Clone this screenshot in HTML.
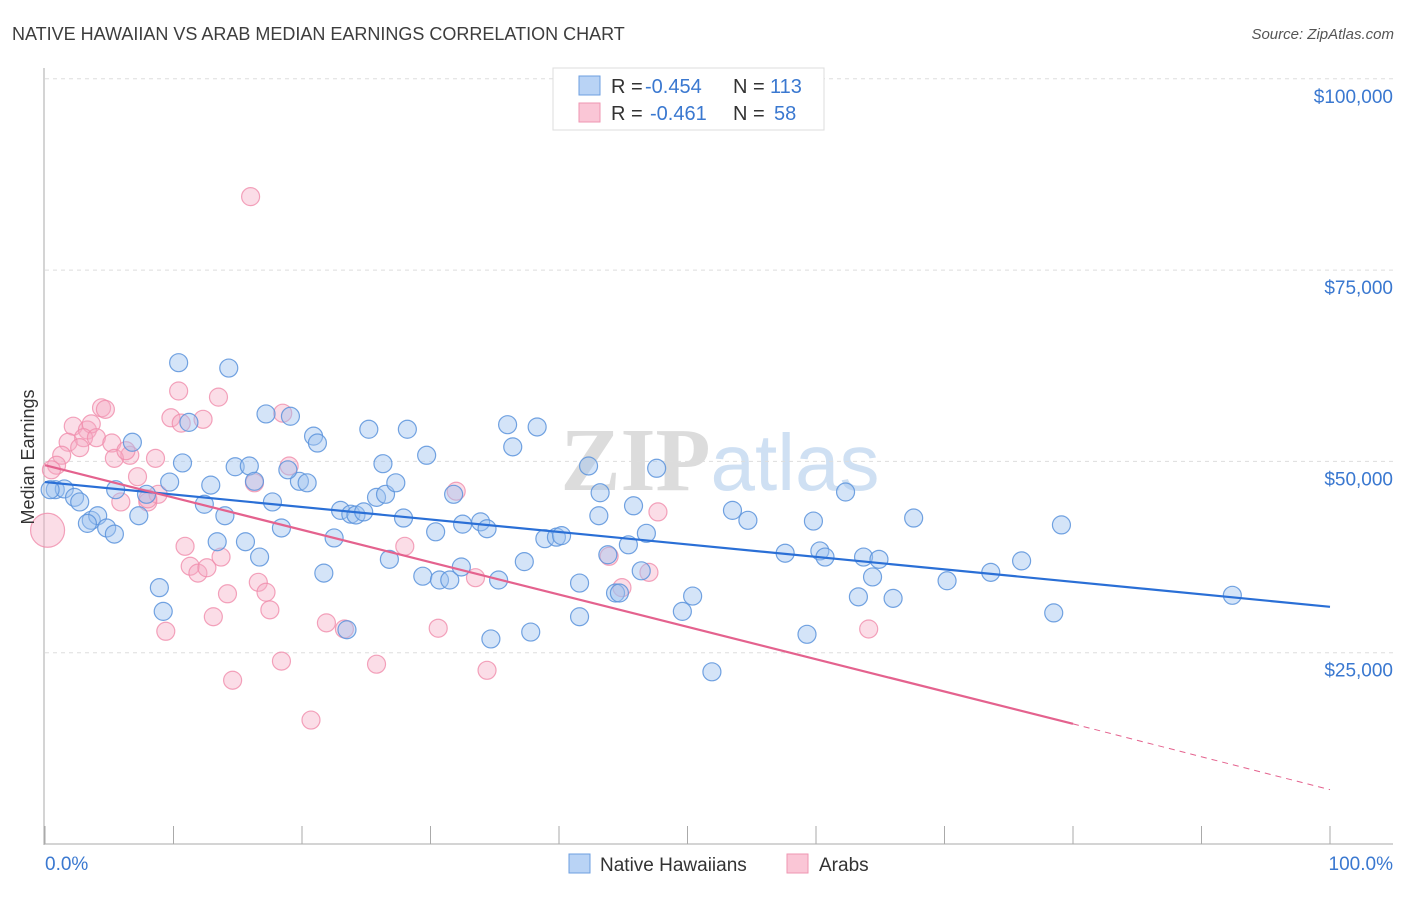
<!DOCTYPE html>
<html><head><meta charset="utf-8"><style>
body{margin:0;background:#fff;font-family:"Liberation Sans",sans-serif;}
svg text{font-family:"Liberation Sans",sans-serif;}
</style></head><body>
<svg id="chart" width="1406" height="892" xmlns="http://www.w3.org/2000/svg">
<text x="12" y="40" font-size="18" fill="#3d3d3d">NATIVE HAWAIIAN VS ARAB MEDIAN EARNINGS CORRELATION CHART</text>
<text x="1394" y="39" font-size="15" fill="#555" text-anchor="end" font-style="italic">Source: ZipAtlas.com</text>
<text x="720" y="490" font-size="90" text-anchor="middle" fill="#e4e4e4"><tspan font-family="Liberation Serif" font-weight="bold" fill="#dcdcdc">ZIP</tspan><tspan fill="#cfe0f3" font-size="80">atlas</tspan></text>
<g id="grid"></g><g id="axes"></g><g id="pts"></g><g id="lines"></g>
<text transform="translate(34,457) rotate(-90)" font-size="18" fill="#333" text-anchor="middle">Median Earnings</text>
<g>
<rect x="553" y="68" width="271" height="62" fill="#fff" stroke="#ddd"/>
<rect x="579" y="76" width="21" height="19" fill="#b9d3f5" stroke="#6d9fe0"/>
<rect x="579" y="103" width="21" height="19" fill="#fac6d6" stroke="#ef96b2"/>
<text x="611" y="93" font-size="20" fill="#333">R =</text>
<text x="645" y="93" font-size="20" fill="#3a78d0">-0.454</text>
<text x="733" y="93" font-size="20" fill="#333">N =</text>
<text x="770" y="93" font-size="20" fill="#3a78d0">113</text>
<text x="611" y="120" font-size="20" fill="#333">R =</text>
<text x="650" y="120" font-size="20" fill="#3a78d0">-0.461</text>
<text x="733" y="120" font-size="20" fill="#333">N =</text>
<text x="774" y="120" font-size="20" fill="#3a78d0">58</text>
</g>
<g>
<rect x="569" y="854" width="21" height="19" fill="#b9d3f5" stroke="#6d9fe0"/>
<text x="600" y="871" font-size="19" fill="#333">Native Hawaiians</text>
<rect x="787" y="854" width="21" height="19" fill="#fac6d6" stroke="#ef96b2"/>
<text x="819" y="871" font-size="19" fill="#333">Arabs</text>
</g>
</svg>
<script>
const yTicks=[25000,50000,75000,100000];
const yTickLabels=["$25,000","$50,000","$75,000","$100,000"];
const xTickLabels=["0.0%","100.0%"];
const blueX=[10.4,14.3,17.2,19.1,11.2,20.9,21.2,25.2,28.2,36.0,38.3,36.4,29.7,6.8,10.7,14.8,15.9,26.3,42.3,47.6,5.5,9.7,12.9,16.3,19.8,20.4,18.9,17.7,25.8,26.5,27.3,31.8,43.2,0.8,1.5,2.3,2.7,0.4,3.6,4.1,3.3,4.8,5.4,7.3,7.9,12.4,14.0,23.0,23.8,24.2,24.8,27.9,30.4,32.5,33.9,34.4,38.9,39.8,40.2,43.1,45.8,45.4,46.8,53.5,54.7,59.8,62.3,67.6,79.1,15.6,16.7,18.4,13.4,22.5,26.8,29.4,30.7,31.5,32.4,35.3,37.3,41.6,43.8,44.4,44.7,46.4,50.4,57.6,60.3,60.7,63.7,64.9,64.4,63.3,66.0,70.2,73.6,76.0,8.9,9.2,21.7,23.5,34.7,37.8,41.6,49.6,51.9,59.3,78.5,92.4];
const blueY=[62.9,62.2,56.2,55.9,55.1,53.3,52.4,54.2,54.2,54.8,54.5,51.9,50.8,52.5,49.8,49.3,49.4,49.7,49.4,49.1,46.3,47.3,46.9,47.4,47.4,47.2,48.9,44.7,45.3,45.7,47.2,45.7,45.9,46.3,46.4,45.3,44.7,46.3,42.3,42.9,41.9,41.3,40.5,42.9,45.7,44.4,42.9,43.6,43.1,43.0,43.4,42.6,40.8,41.8,42.1,41.2,39.9,40.1,40.3,42.9,44.2,39.1,40.6,43.6,42.3,42.2,46.0,42.6,41.7,39.5,37.5,41.3,39.5,40.0,37.2,35.0,34.5,34.5,36.2,34.5,36.9,34.1,37.8,32.8,32.8,35.7,32.4,38.0,38.3,37.5,37.5,37.2,34.9,32.3,32.1,34.4,35.5,37.0,33.5,30.4,35.4,28.0,26.8,27.7,29.7,30.4,22.5,27.4,30.2,32.5];
const pinkX=[16.0,10.4,13.5,4.4,4.7,9.8,10.6,12.3,18.5,2.2,3.3,3.6,3.0,1.8,2.7,4.0,5.2,6.6,5.4,6.3,8.6,1.3,0.9,0.5,7.2,5.9,8.0,19.0,16.3,8.8,8.0,32.0,47.7,10.9,11.3,11.9,12.6,13.7,16.6,17.2,14.2,17.5,13.1,9.4,14.6,18.4,20.7,21.9,23.3,25.8,28.0,30.6,33.5,34.4,43.9,44.9,47.0,64.1,0.2];
const pinkY=[84.6,59.2,58.4,57.0,56.8,55.7,55.0,55.5,56.3,54.6,54.1,54.9,53.1,52.5,51.8,53.1,52.4,50.8,50.4,51.4,50.4,50.8,49.5,48.9,48.0,44.7,44.7,49.4,47.2,45.7,45.1,46.1,43.4,38.9,36.3,35.4,36.1,37.5,34.2,32.9,32.7,30.6,29.7,27.8,21.4,23.9,16.2,28.9,28.1,23.5,38.9,28.2,34.8,22.7,37.6,33.5,35.5,28.1,41.0];
const blueTrend=[[0,47.3],[100,31.0]];
const pinkTrendSolid=[[0,49.5],[80,15.7]];
const pinkTrendDash=[[80,15.7],[100,7.1]];

const NS="http://www.w3.org/2000/svg";
const X=v=>45+v*12.85;
const Y=v=>844-v*7.652;
function mk(tag,attrs,parent){const e=document.createElementNS(NS,tag);for(const k in attrs)e.setAttribute(k,attrs[k]);document.getElementById(parent).appendChild(e);return e;}
yTicks.forEach((t,i)=>{
  const g=mk('line',{x1:45,x2:1393,y1:Y(t/1000),y2:Y(t/1000),stroke:'#ddd','stroke-dasharray':'4,4'},'grid');
  
  
  const tx=mk('text',{x:1393,y:Y(t/1000)+24,'font-size':19,fill:'#3a78d0','text-anchor':'end'},'axes');
  tx.textContent=yTickLabels[i];
  
  
});
const ya=mk('line',{x1:44,x2:44,y1:68,y2:845,stroke:'#aaa'},'axes');


const xa=mk('line',{x1:44,x2:1393,y1:844,y2:844,stroke:'#aaa'},'axes');


for(let i=0;i<=10;i++){const t=mk('line',{x1:X(i*10),x2:X(i*10),y1:826,y2:844,stroke:'#aaa'},'axes');

}
const xl0=mk('text',{x:45,y:870,'font-size':19,fill:'#3a78d0'},'axes');xl0.textContent=xTickLabels[0];


const xl1=mk('text',{x:1393,y:870,'font-size':19,fill:'#3a78d0','text-anchor':'end'},'axes');xl1.textContent=xTickLabels[1];


pinkX.forEach((x,i)=>{const c=mk('circle',{cx:X(x),cy:Y(pinkY[i]),r:i==pinkX.length-1?17:9,fill:'rgba(246,170,196,0.4)',stroke:'#f08cab','stroke-width':1.2,'stroke-opacity':0.8},'pts');

});
blueX.forEach((x,i)=>{const c=mk('circle',{cx:X(x),cy:Y(blueY[i]),r:9,fill:'rgba(160,196,240,0.45)',stroke:'#5b93dc','stroke-width':1.2,'stroke-opacity':0.85},'pts');

});
const bl=mk('line',{x1:X(blueTrend[0][0]),y1:Y(blueTrend[0][1]),x2:X(blueTrend[1][0]),y2:Y(blueTrend[1][1]),stroke:'#2a6fd6','stroke-width':2.2},'lines');


const pl=mk('line',{x1:X(pinkTrendSolid[0][0]),y1:Y(pinkTrendSolid[0][1]),x2:X(pinkTrendSolid[1][0]),y2:Y(pinkTrendSolid[1][1]),stroke:'#e4628e','stroke-width':2.2},'lines');


const pd=mk('line',{x1:X(pinkTrendDash[0][0]),y1:Y(pinkTrendDash[0][1]),x2:X(pinkTrendDash[1][0]),y2:Y(pinkTrendDash[1][1]),stroke:'#e4628e','stroke-width':1,'stroke-dasharray':'6,5'},'lines');


</script>
</body></html>
